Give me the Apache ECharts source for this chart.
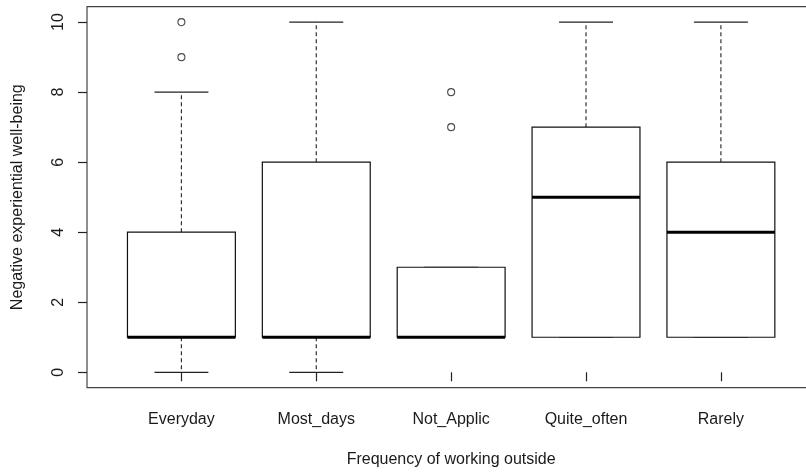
<!DOCTYPE html>
<html>
<head>
<meta charset="utf-8">
<script src="https://cdn.jsdelivr.net/npm/echarts@6/dist/echarts.min.js"></script>
<style>
  html, body { margin: 0; padding: 0; background: #fff; }
  #chart { width: 806px; height: 472px; }
</style>
</head>
<body>
<div id="chart"></div>
<script>
// Five-number summaries per group (whisker ends, quartiles, median)
const categories    = ['Everyday', 'Most_days', 'Not_Applic', 'Quite_often', 'Rarely'];
const whiskerLow    = [0, 0, 1, 1, 1];
const lowerQuartile = [1, 1, 1, 1, 1];
const medians       = [1, 1, 1, 5, 4];
const upperQuartile = [4, 6, 3, 7, 6];
const whiskerHigh   = [8, 10, 3, 10, 10];

// Points beyond the whiskers: group position (1-based) and value
const outlierGroup = [1, 1, 3, 3];
const outlierValue = [9, 10, 7, 8];

const yTicks = [0, 2, 4, 6, 8, 10];

const FONT = 'Liberation Sans, Arial, sans-serif';
const TEXT = '#1a1a1a';

const boxData = categories.map((c, i) => [
  i + 1, whiskerLow[i], lowerQuartile[i], medians[i], upperQuartile[i], whiskerHigh[i]
]);
const outlierData = outlierGroup.map((g, i) => [g, outlierValue[i]]);
const xPositions = categories.map((c, i) => i + 1);

function renderBox(params, api) {
  const x = api.value(0);
  const half = api.size([0.4, 0])[0];
  const capHalf = half / 2;
  const pLow = api.coord([x, api.value(1)]);
  const pQ1 = api.coord([x, api.value(2)]);
  const pMed = api.coord([x, api.value(3)]);
  const pQ3 = api.coord([x, api.value(4)]);
  const pHigh = api.coord([x, api.value(5)]);
  const cx = pMed[0];
  const lineStyle = { stroke: '#222', lineWidth: 1.2 };
  const dashStyle = { stroke: '#333', lineWidth: 1.2, lineDash: [4, 3] };
  const children = [];
  if (pHigh[1] < pQ3[1]) {
    children.push({ type: 'line', shape: { x1: cx, y1: pQ3[1], x2: cx, y2: pHigh[1] }, style: dashStyle });
  }
  if (pLow[1] > pQ1[1]) {
    children.push({ type: 'line', shape: { x1: cx, y1: pQ1[1], x2: cx, y2: pLow[1] }, style: dashStyle });
  }
  children.push({ type: 'line', shape: { x1: cx - capHalf, y1: pHigh[1], x2: cx + capHalf, y2: pHigh[1] }, style: lineStyle });
  children.push({ type: 'line', shape: { x1: cx - capHalf, y1: pLow[1], x2: cx + capHalf, y2: pLow[1] }, style: lineStyle });
  children.push({
    type: 'rect',
    shape: { x: cx - half, y: pQ3[1], width: half * 2, height: pQ1[1] - pQ3[1] },
    style: { fill: '#fff', stroke: '#111', lineWidth: 1.2 }
  });
  children.push({
    type: 'line',
    shape: { x1: cx - half, y1: pMed[1], x2: cx + half, y2: pMed[1] },
    style: { stroke: '#000', lineWidth: 3 }
  });
  return { type: 'group', children };
}

const chart = echarts.init(document.getElementById('chart'), null, { renderer: 'canvas' });
chart.setOption({
  animation: false,
  backgroundColor: '#fff',
  textStyle: { fontFamily: FONT, color: TEXT },
  grid: {
    left: 87, top: 6.7, width: 728.3, bottom: 84.3,
    outerBoundsMode: 'none', containLabel: false,
    show: true, borderColor: '#444', borderWidth: 1.2, backgroundColor: 'transparent'
  },
  xAxis: {
    type: 'value', min: 0.3, max: 5.7,
    name: 'Frequency of working outside',
    nameLocation: 'middle', nameGap: 64,
    nameTextStyle: { fontSize: 16, color: TEXT, fontFamily: FONT },
    axisLine: { show: false },
    splitLine: { show: false },
    axisTick: { show: true, length: 9, customValues: xPositions, lineStyle: { color: '#222', width: 1.2 } },
    axisLabel: {
      customValues: xPositions, margin: 24, fontSize: 16, color: TEXT, fontFamily: FONT,
      formatter: v => categories[Math.round(v) - 1] || ''
    }
  },
  yAxis: {
    type: 'value', min: -0.44, max: 10.44,
    name: 'Negative experiential well-being',
    nameLocation: 'middle', nameGap: 61,
    nameTextStyle: { fontSize: 16, color: TEXT, fontFamily: FONT },
    axisLine: { show: false },
    splitLine: { show: false },
    axisTick: { show: true, length: 9, customValues: yTicks, lineStyle: { color: '#222', width: 1.2 } },
    axisLabel: {
      customValues: yTicks, rotate: 90, margin: 20, fontSize: 16, color: TEXT, fontFamily: FONT
    }
  },
  series: [
    {
      type: 'custom',
      renderItem: renderBox,
      data: boxData,
      encode: { x: 0, y: [1, 2, 3, 4, 5] },
      z: 2
    },
    {
      type: 'scatter',
      data: outlierData,
      symbol: 'circle',
      symbolSize: 7,
      itemStyle: { color: '#fff', borderColor: '#222', borderWidth: 1.1 },
      z: 3
    }
  ]
});
</script>
</body>
</html>
